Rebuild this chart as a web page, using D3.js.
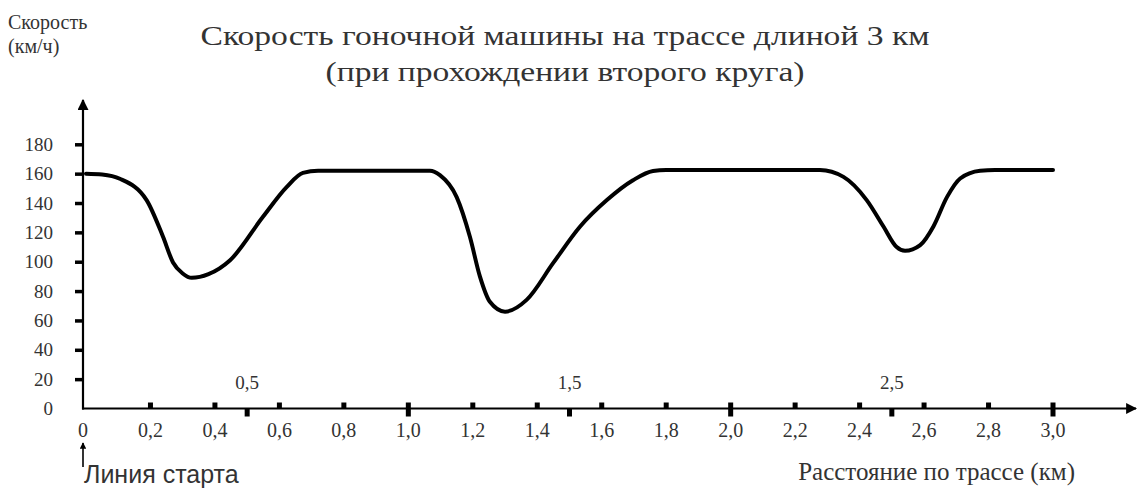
<!DOCTYPE html>
<html><head><meta charset="utf-8">
<script src="https://cdn.jsdelivr.net/npm/d3@7"></script>
<style>body{margin:0;background:#fff}svg{display:block}
.serif{font-family:"Liberation Serif","Times New Roman",Times,serif}
.sans{font-family:"Liberation Sans",Arial,sans-serif}
</style>
</head><body>
<svg id="c" width="1137" height="488"></svg>
<script>
const titleLines = ["Скорость гоночной машины на трассе длиной 3 км", "(при прохождении второго круга)"];
const yAxisTitle = ["Скорость", "(км/ч)"];
const xAxisTitle = "Расстояние по трассе (км)";
const startLabel = "Линия старта";

const distance = [0, 0.05, 0.105, 0.188, 0.239, 0.27, 0.3, 0.328, 0.38, 0.447, 0.549, 0.623, 0.673, 0.72, 0.9,
  1.067, 1.098, 1.15, 1.191, 1.222, 1.253, 1.3, 1.367, 1.449, 1.533, 1.616, 1.697, 1.759, 1.8, 2.0,
  2.277, 2.35, 2.422, 2.474, 2.515, 2.541, 2.588, 2.629, 2.671, 2.712, 2.774, 2.82, 2.9, 3.0];
const speed = [160, 159.4, 156.5, 142, 117, 99.5, 92, 89, 91.5, 101, 130.6, 151, 160.5, 162, 162,
  162, 159, 144, 117, 90, 72.7, 66, 74, 99, 124, 142, 155.5, 161.8, 162.5, 162.5,
  162.5, 157.8, 142, 124, 110, 107.4, 111.3, 124, 144, 156.7, 162, 162.5, 162.5, 162.5];

const yTickValues = [0, 20, 40, 60, 80, 100, 120, 140, 160, 180];
const xLabelValues = [0, 0.2, 0.4, 0.6, 0.8, 1.0, 1.2, 1.4, 1.6, 1.8, 2.0, 2.2, 2.4, 2.6, 2.8, 3.0];
const xLabelTexts = ["0", "0,2", "0,4", "0,6", "0,8", "1,0", "1,2", "1,4", "1,6", "1,8", "2,0", "2,2", "2,4", "2,6", "2,8", "3,0"];
const xMinorTicks = [0.2, 0.4, 0.6, 0.8, 1.2, 1.4, 1.6, 1.8, 2.2, 2.4, 2.6, 2.8];
const xMajorTicks = [1.0, 2.0, 3.0];
const xHalfTicks = [0.5, 1.5, 2.5];
const xHalfLabels = ["0,5", "1,5", "2,5"];

const svg = d3.select("#c");
const txt = "#333";

const x = d3.scaleLinear().domain([0, 3]).range([86, 1053]);
const y = d3.scaleLinear().domain([0, 180]).range([408.5, 144.3]);
const axisX = x(0) - 3;
const axisY = y(0);

// title (horizontally stretched like the reference)
svg.selectAll("text.title").data(titleLines).join("text").attr("class", "title serif")
  .attr("transform", (d, i) => `translate(565,${45 + i * 36}) scale(1.2,1)`)
  .attr("text-anchor", "middle").attr("font-size", 28)
  .attr("fill", txt).text(d => d);

// y-axis title
svg.selectAll("text.ytitle").data(yAxisTitle).join("text").attr("class", "ytitle serif")
  .attr("x", 8).attr("y", (d, i) => 29 + i * 24)
  .attr("font-size", 20).attr("fill", txt).text(d => d);

// arrow markers
const defs = svg.append("defs");
defs.append("marker").attr("id", "arr").attr("viewBox", "0 0 10 10")
  .attr("refX", 9).attr("refY", 5).attr("markerWidth", 5).attr("markerHeight", 5)
  .attr("markerUnits", "strokeWidth").attr("orient", "auto")
  .append("path").attr("d", "M0,0 L10,5 L0,10 z").attr("fill", "#000");
defs.append("marker").attr("id", "arr2").attr("viewBox", "0 0 10 10")
  .attr("refX", 9).attr("refY", 5).attr("markerWidth", 5).attr("markerHeight", 4)
  .attr("markerUnits", "strokeWidth").attr("orient", "auto")
  .append("path").attr("d", "M0,0 L10,5 L0,10 z").attr("fill", "#000");

// y axis via d3 axis
const yAxis = d3.axisLeft(y).tickValues(yTickValues).tickSize(8).tickPadding(22).tickFormat(d3.format("d"));
const gy = svg.append("g").attr("transform", `translate(${axisX},0)`).call(yAxis)
  .attr("font-family", null).attr("font-size", null);
gy.select(".domain").remove();
gy.selectAll(".tick line").attr("stroke", "#000").attr("stroke-width", 3.5)
  .attr("display", d => d === 0 ? "none" : null);
gy.selectAll(".tick text").attr("class", "serif").attr("font-size", 19).attr("fill", txt);

// axis lines
svg.append("line").attr("x1", axisX).attr("x2", axisX).attr("y1", axisY + 1).attr("y2", 100)
  .attr("stroke", "#000").attr("stroke-width", 2.2).attr("marker-end", "url(#arr)");
svg.append("line").attr("x1", axisX - 1).attr("x2", 1136).attr("y1", axisY).attr("y2", axisY)
  .attr("stroke", "#000").attr("stroke-width", 2.2).attr("marker-end", "url(#arr)");

// x ticks
svg.selectAll("rect.minor").data(xMinorTicks).join("rect").attr("class", "minor")
  .attr("x", d => x(d) - 2.5).attr("y", axisY - 6).attr("width", 5).attr("height", 6).attr("fill", "#000");
svg.selectAll("rect.major").data(xMajorTicks).join("rect").attr("class", "major")
  .attr("x", d => x(d) - 2.5).attr("y", axisY - 6).attr("width", 5).attr("height", 14).attr("fill", "#000");
svg.selectAll("rect.half").data(xHalfTicks).join("rect").attr("class", "half")
  .attr("x", d => x(d) - 2.5).attr("y", axisY).attr("width", 5).attr("height", 8).attr("fill", "#000");

// x labels
svg.selectAll("text.xl").data(xLabelValues).join("text").attr("class", "xl serif")
  .attr("x", (d, i) => i === 0 ? axisX : x(d)).attr("y", axisY + 28.5)
  .attr("text-anchor", "middle").attr("font-size", 20).attr("fill", txt)
  .text((d, i) => xLabelTexts[i]);
svg.selectAll("text.xh").data(xHalfTicks).join("text").attr("class", "xh serif")
  .attr("x", d => x(d)).attr("y", axisY - 19.5)
  .attr("text-anchor", "middle").attr("font-size", 19).attr("fill", txt)
  .text((d, i) => xHalfLabels[i]);

// curve
const pts = distance.map((d, i) => [d, speed[i]]);
const line = d3.line().x(d => x(d[0])).y(d => y(d[1])).curve(d3.curveMonotoneX);
svg.append("path").datum(pts).attr("d", line).attr("fill", "none")
  .attr("stroke", "#000").attr("stroke-width", 4).attr("stroke-linejoin", "round").attr("stroke-linecap", "round");

// start line marker
svg.append("line").attr("x1", axisX).attr("x2", axisX).attr("y1", 467).attr("y2", 443)
  .attr("stroke", "#000").attr("stroke-width", 1.6).attr("marker-end", "url(#arr2)");
svg.append("text").attr("class", "sans").attr("x", axisX + 1).attr("y", 483).attr("font-size", 25)
  .attr("fill", txt).text(startLabel);
svg.append("text").attr("class", "serif").attr("x", 1075).attr("y", 480).attr("text-anchor", "end")
  .attr("font-size", 25).attr("fill", txt).text(xAxisTitle);
</script>
</body></html>
